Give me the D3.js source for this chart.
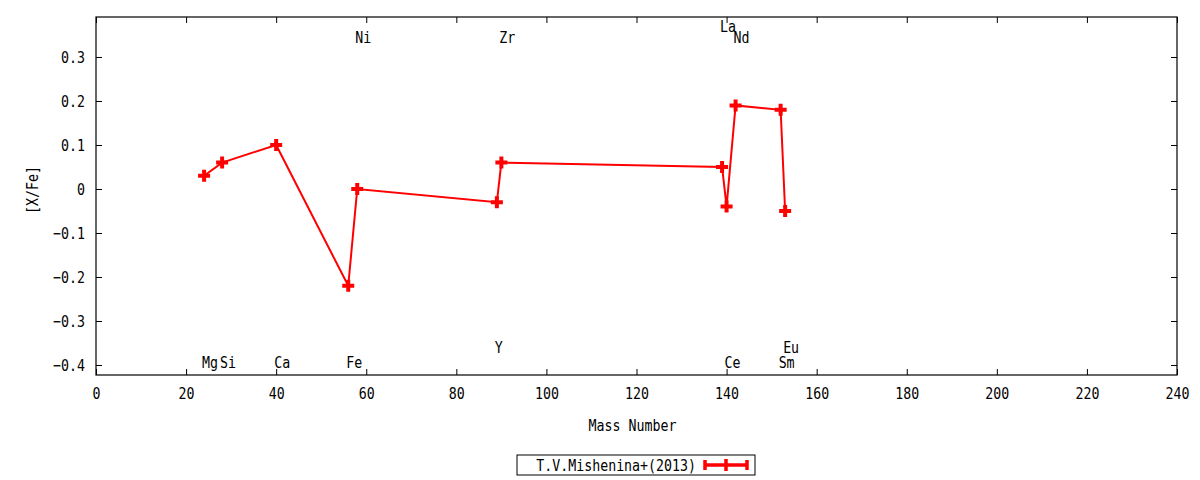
<!DOCTYPE html>
<meta charset="utf-8">
<script src="https://d3js.org/d3.v7.min.js"></script>
<style>
  body { margin: 0; background: #fff; }
  text { font-family: "DejaVu Sans Mono", monospace; font-size: 16px; fill: #000;
         transform-box: fill-box; transform: scaleX(0.83); transform-origin: center; }
  text.end { transform-origin: right center; }
  text.start { transform-origin: left center; }
  .axis path, .axis line { stroke: #000; }
</style>
<body>
<div id="vis"></div>
<script>
// data
var elements = ["Mg", "Si", "Ca", "Fe", "Ni", "Y", "Zr", "La", "Ce", "Nd", "Sm", "Eu"];
var massNumber = [24, 28, 40, 56, 58, 89, 90, 139, 140, 142, 152, 153];
var xFe = [0.03, 0.06, 0.10, -0.22, 0.00, -0.03, 0.06, 0.05, -0.04, 0.19, 0.18, -0.05];
// where each element name is written (data y)
var labelY = [-0.395, -0.395, -0.395, -0.395, 0.345, -0.359, 0.345, 0.369, -0.395, 0.345, -0.395, -0.359];
var xTicks = [0, 20, 40, 60, 80, 100, 120, 140, 160, 180, 200, 220, 240];
var yTicks = [-0.4, -0.3, -0.2, -0.1, 0, 0.1, 0.2, 0.3];
var seriesName = "T.V.Mishenina+(2013)";

var margin = {top: 17, right: 23, bottom: 105, left: 96},
    width = 1200 - margin.left - margin.right,
    height = 480 - margin.top - margin.bottom;

var svg = d3.select("#vis")
  .append("svg")
    .attr("width", 1200)
    .attr("height", 480)
  .append("g")
    .attr("transform", "translate(" + margin.left + "," + margin.top + ")");

var x = d3.scaleLinear().domain([0, 240]).range([0, width]);
var y = d3.scaleLinear().domain([-0.4227, 0.3909]).range([height, 0]);

var fmtY = function(d) { return d === 0 ? "0" : d3.format(".1f")(d); };

// bottom axis (ticks inward)
svg.append("g").attr("class", "axis")
  .attr("transform", "translate(0," + height + ")")
  .call(d3.axisBottom(x).tickValues(xTicks).tickSize(-6).tickPadding(13))
  .call(function(g){ g.select(".domain").remove(); });
// top mirror ticks
svg.append("g").attr("class", "axis")
  .call(d3.axisTop(x).tickValues(xTicks).tickSize(-6).tickFormat(""))
  .call(function(g){ g.select(".domain").remove(); });
// left axis
svg.append("g").attr("class", "axis")
  .call(d3.axisLeft(y).tickValues(yTicks).tickSize(-6).tickPadding(11).tickFormat(fmtY))
  .call(function(g){ g.select(".domain").remove(); g.selectAll("text").attr("class", "end"); });
// right mirror ticks
svg.append("g").attr("class", "axis")
  .attr("transform", "translate(" + width + ",0)")
  .call(d3.axisRight(y).tickValues(yTicks).tickSize(-6).tickFormat(""))
  .call(function(g){ g.select(".domain").remove(); });

svg.selectAll(".axis").attr("font-family", null).attr("font-size", null);

// frame
svg.append("rect")
  .attr("x", 0).attr("y", 0)
  .attr("width", width).attr("height", height)
  .style("fill", "none").style("stroke", "#000").style("stroke-width", 1.2);

// axis titles
svg.append("text")
  .attr("x", width / 2 - 4)
  .attr("y", height + 50)
  .attr("dy", "0.35em")
  .attr("text-anchor", "middle")
  .text("Mass Number");
svg.append("g")
  .attr("transform", "translate(-64," + (height / 2 - 6) + ") rotate(-90)")
  .append("text")
    .attr("text-anchor", "middle")
    .attr("dy", "0.35em")
    .text("[X/Fe]");

// element names
svg.selectAll(".elabel")
  .data(elements)
  .enter()
  .append("text")
    .attr("class", "start")
    .attr("x", function(d, i){ return x(massNumber[i]) - 2; })
    .attr("y", function(d, i){ return y(labelY[i]); })
    .attr("dy", "0.35em")
    .text(function(d){ return d; });

// series line
var pts = massNumber.map(function(m, i){ return [m, xFe[i]]; });
svg.append("path")
  .datum(pts)
  .attr("d", d3.line().x(function(d){ return x(d[0]); }).y(function(d){ return y(d[1]); }))
  .style("fill", "none")
  .style("stroke", "#ff0000")
  .style("stroke-width", 2);

// plus markers
var plus = "M-6,0H6M0,-6V6";
svg.selectAll(".pt")
  .data(pts)
  .enter()
  .append("path")
    .attr("class", "pt")
    .attr("transform", function(d){ return "translate(" + x(d[0]) + "," + y(d[1]) + ")"; })
    .attr("d", plus)
    .style("stroke", "#ff0000")
    .style("stroke-width", 4);

// legend
var lg = svg.append("g").attr("transform", "translate(" + (517 - margin.left) + "," + (455 - margin.top) + ")");
lg.append("rect")
  .attr("width", 238).attr("height", 20)
  .style("fill", "#fff").style("stroke", "#000").style("stroke-width", 1);
lg.append("text")
  .attr("class", "end")
  .attr("x", 179).attr("y", 10).attr("dy", "0.35em")
  .attr("text-anchor", "end")
  .text(seriesName);
lg.append("path")
  .attr("d", "M188,10H230M188,5V15M230,5V15M209,4V16")
  .style("stroke", "#ff0000")
  .style("stroke-width", 3.5)
  .style("fill", "none");
</script>
</body>
